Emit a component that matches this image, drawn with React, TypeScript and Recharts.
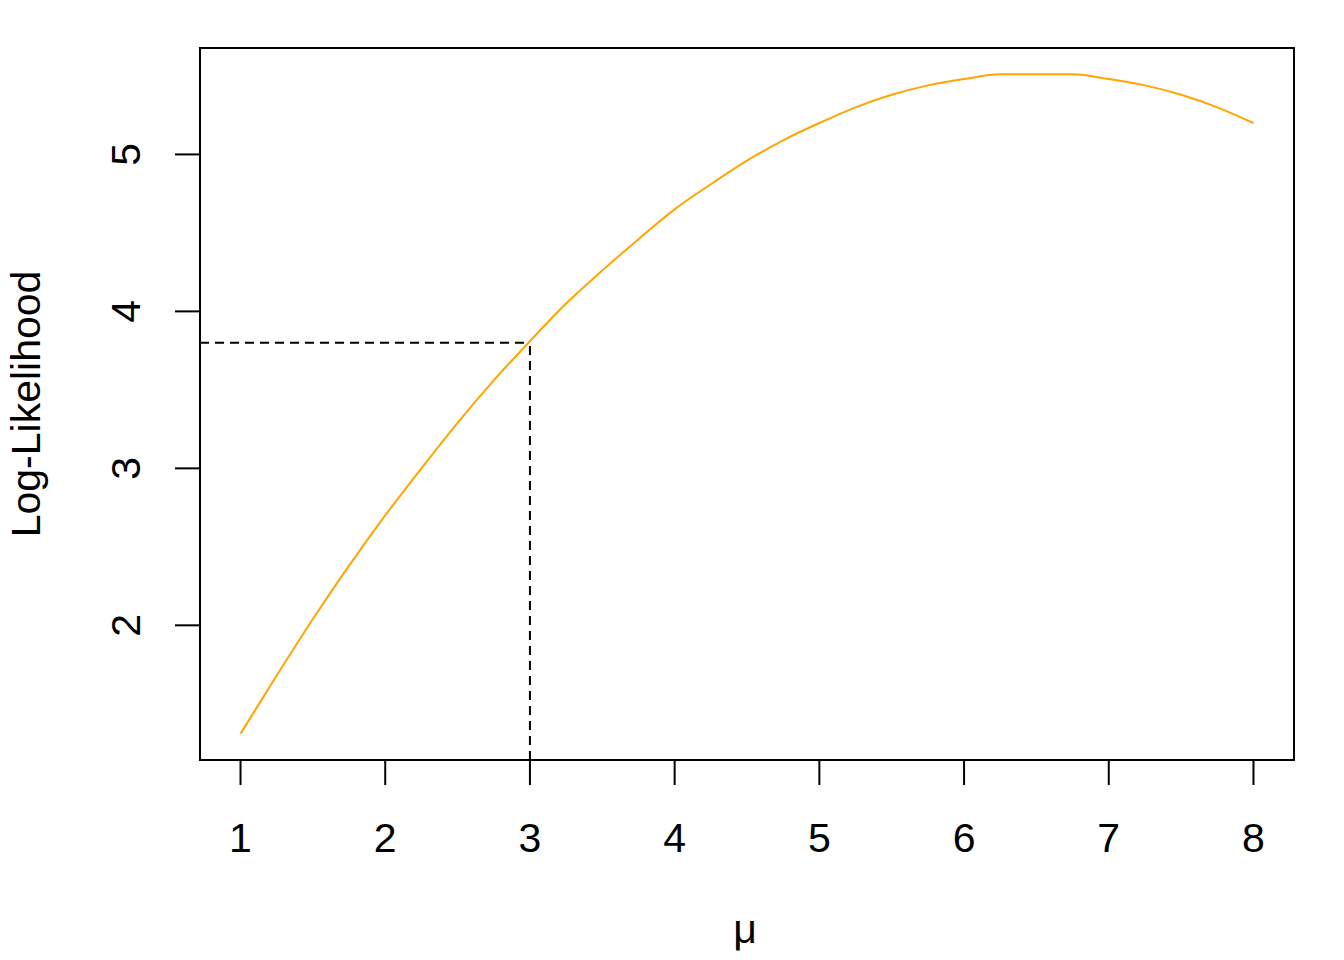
import { LineChart, Line, XAxis, YAxis, ReferenceLine, ReferenceArea } from 'recharts'

// mu values and log-likelihood
const muValues = [
  1, 1.25, 1.5, 1.75, 2, 2.25, 2.5, 2.75, 3, 3.25, 3.5, 3.75, 4, 4.25, 4.5,
  4.75, 5, 5.25, 5.5, 5.75, 6, 6.25, 6.5, 6.75, 7, 7.25, 7.5, 7.75, 8,
]
const logLik = [
  1.31, 1.68, 2.04, 2.38, 2.7, 3.0, 3.29, 3.56, 3.81, 4.05, 4.26, 4.46, 4.65,
  4.81, 4.96, 5.09, 5.2, 5.3, 5.38, 5.44, 5.48, 5.51, 5.51, 5.51, 5.48, 5.44,
  5.38, 5.3, 5.2,
]
const xTicks = [1, 2, 3, 4, 5, 6, 7, 8]
const yTicks = [2, 3, 4, 5]
const markMu = 3
const markLL = 3.8

const FONT = '"Liberation Sans", Arial, sans-serif'

const data = muValues.map((mu, i) => ({ mu, ll: logLik[i] }))

// R style 4% padding of the data range
const xPad = (Math.max(...muValues) - Math.min(...muValues)) * 0.04
const xDomain = [Math.min(...muValues) - xPad, Math.max(...muValues) + xPad]
const yPad = (Math.max(...logLik) - Math.min(...logLik)) * 0.04
const yDomain = [Math.min(...logLik) - yPad, Math.max(...logLik) + yPad]

function XTick(props: any) {
  const { x, payload } = props
  return (
    <text x={x} y={852} textAnchor="middle" fontSize={41} fontFamily={FONT} fill="#000">
      {payload.value}
    </text>
  )
}

function YTick(props: any) {
  const { y, payload } = props
  return (
    <text
      x={140}
      y={y}
      transform={`rotate(-90, 140, ${y})`}
      textAnchor="middle"
      fontSize={41}
      fontFamily={FONT}
      fill="#000"
    >
      {payload.value}
    </text>
  )
}

export default function App() {
  return (
    <div style={{ position: 'absolute', left: 0, top: 0, background: '#fff' }}>
      <LineChart
        width={1344}
        height={960}
        data={data}
        margin={{ top: 48, right: 50, left: 0, bottom: 0 }}
      >
        <XAxis
          dataKey="mu"
          type="number"
          domain={xDomain}
          ticks={xTicks}
          axisLine={false}
          tickSize={25}
          tickLine={{ stroke: '#000', strokeWidth: 2 }}
          tick={<XTick />}
          height={200}
          label={{
            content: () => (
              <text x={745} y={943} textAnchor="middle" fontSize={41} fontFamily={FONT} fill="#000">
                μ
              </text>
            ),
          }}
        />
        <YAxis
          type="number"
          domain={yDomain}
          ticks={yTicks}
          axisLine={false}
          tickSize={25}
          tickLine={{ stroke: '#000', strokeWidth: 2 }}
          tick={<YTick />}
          width={200}
          label={{
            content: () => (
              <text
                x={40}
                y={404}
                transform="rotate(-90, 40, 404)"
                textAnchor="middle"
                fontSize={41}
                fontFamily={FONT}
                fill="#000"
              >
                Log-Likelihood
              </text>
            ),
          }}
        />
        <ReferenceArea
          x1={xDomain[0]}
          x2={xDomain[1]}
          y1={yDomain[0]}
          y2={yDomain[1]}
          fill="none"
          fillOpacity={0}
          stroke="#000"
          strokeWidth={2}
          ifOverflow="visible"
        />
        <ReferenceLine
          segment={[
            { x: xDomain[0], y: markLL },
            { x: markMu, y: markLL },
          ]}
          stroke="#000"
          strokeWidth={2}
          strokeDasharray="9 6"
          ifOverflow="visible"
        />
        <ReferenceLine
          segment={[
            { x: markMu, y: yDomain[0] },
            { x: markMu, y: markLL },
          ]}
          stroke="#000"
          strokeWidth={2}
          strokeDasharray="9 6"
          ifOverflow="visible"
        />
        <Line
          type="monotoneX"
          dataKey="ll"
          stroke="#FFA500"
          strokeWidth={2}
          dot={false}
          isAnimationActive={false}
        />
      </LineChart>
    </div>
  )
}
